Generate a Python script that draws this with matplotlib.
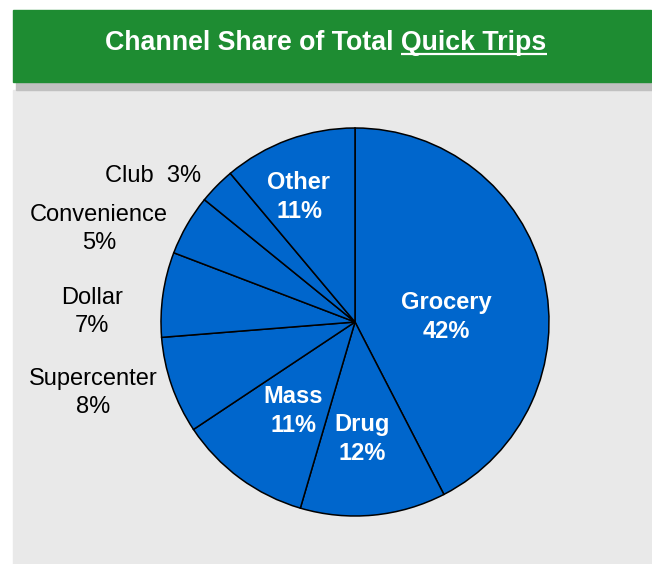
import matplotlib.pyplot as plt
from matplotlib.patches import Rectangle

plt.rcParams['font.family'] = ['Liberation Sans', 'DejaVu Sans']

# 各渠道份额（顺时针，从12点方向开始）
channels = ['Grocery', 'Drug', 'Mass', 'Supercenter', 'Dollar', 'Convenience', 'Club', 'Other']
shares = [42, 12, 11, 8, 7, 5, 3, 11]

# 标签位置（像素，原点左上角）
inside = {'Grocery': (446, 317), 'Drug': (362, 439), 'Mass': (293, 411), 'Other': (299, 197)}
outside = {'Supercenter': (93, 393), 'Dollar': (92, 312), 'Convenience': (99, 229)}

W, H = 652, 564
fig = plt.figure(figsize=(W / 100, H / 100), dpi=100)
ax = fig.add_axes([0, 0, 1, 1])


def py(y):
    return H - y


# 背景面板、标题栏阴影、标题栏
ax.add_patch(Rectangle((13, py(564)), 639, 474, color='#e9e9e9', zorder=0))
ax.add_patch(Rectangle((16, py(90)), 636, 8, color='#c0c0c0', zorder=1))
ax.add_patch(Rectangle((13, py(82)), 638, 72, color='#1e8c32', zorder=2))

ax.pie(shares, startangle=90, counterclock=False, center=(355, py(322)), radius=194,
       colors=['#0066cc'] * len(shares),
       wedgeprops=dict(edgecolor='black', linewidth=1.1))

ax.set_xlim(0, W)
ax.set_ylim(0, H)
ax.set_aspect('equal')
ax.axis('off')

for name, val in zip(channels, shares):
    if name in inside:
        x, y = inside[name]
        ax.text(x, py(y), '%s\n%d%%' % (name, val), color='white', fontsize=17,
                fontweight='bold', ha='center', va='center', linespacing=1.3, zorder=5)
    elif name in outside:
        x, y = outside[name]
        ax.text(x, py(y), '%s\n%d%%' % (name, val), color='black', fontsize=17,
                ha='center', va='center', linespacing=1.3, zorder=5)
    else:
        ax.text(153, py(176), '%s  %d%%' % (name, val), color='black', fontsize=17,
                ha='center', va='center', zorder=5)

# 标题，“Quick Trips” 加下划线
title = ax.text(326, py(43), 'Channel Share of Total Quick Trips', color='white',
                fontsize=19.3, fontweight='bold', ha='center', va='center', zorder=5)
fig.canvas.draw()
r = fig.canvas.get_renderer()
bb = title.get_window_extent(r)
tmp = ax.text(0, 0, 'Quick Trips', fontsize=19.3, fontweight='bold')
w = tmp.get_window_extent(r).width
tmp.remove()
ax.plot([bb.x1 - w, bb.x1], [py(54), py(54)], color='white', linewidth=1.6,
        solid_capstyle='butt', zorder=5)

fig.savefig('out.png', dpi=100)
